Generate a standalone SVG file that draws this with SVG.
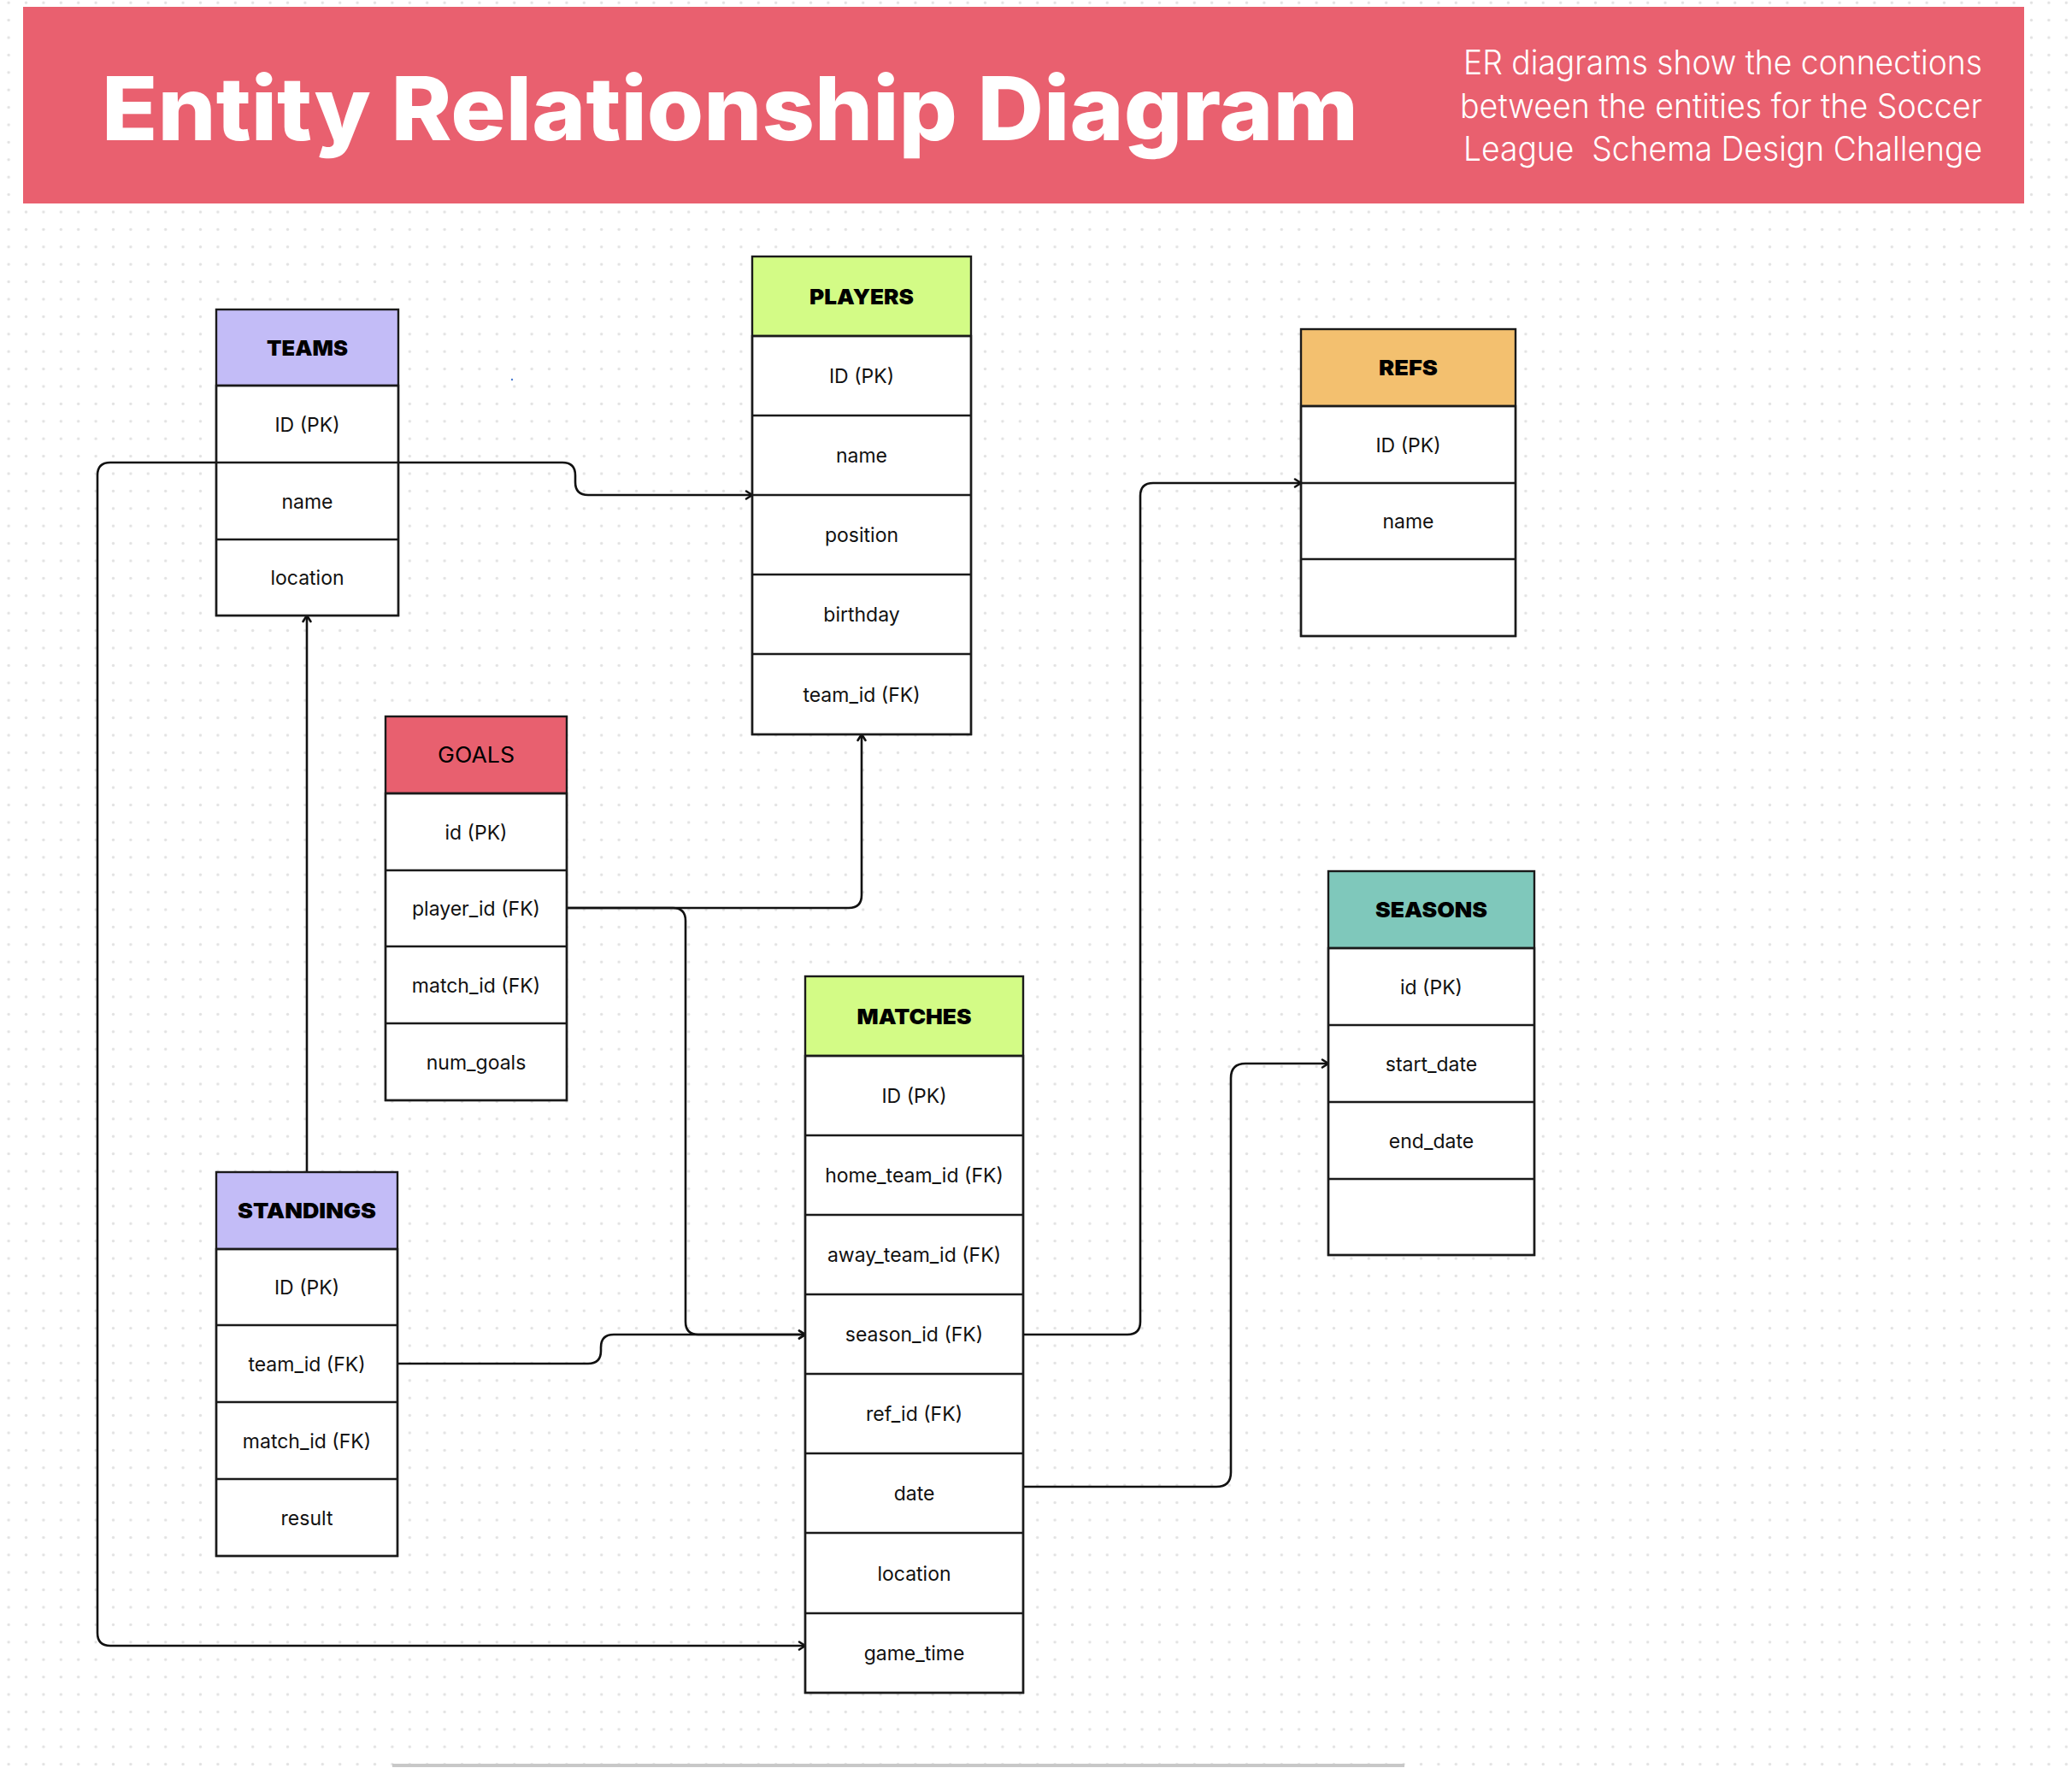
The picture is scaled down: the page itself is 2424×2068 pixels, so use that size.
<svg xmlns="http://www.w3.org/2000/svg" width="2424" height="2068" viewBox="0 0 2424 2068">
<defs>
<pattern id="dots" x="-0.1" y="-7" width="20.4" height="20.4" patternUnits="userSpaceOnUse">
<circle cx="10.2" cy="10.2" r="1.7" fill="#e2e2e2"/>
</pattern>
<marker id="arr" markerUnits="userSpaceOnUse" markerWidth="14" markerHeight="14" refX="9" refY="6" orient="auto" overflow="visible">
<path d="M2,1.5 L9,6 L2,10.5" fill="none" stroke="#111" stroke-width="2.6" stroke-linejoin="miter" stroke-linecap="round"/>
</marker>
<style>
.box{fill:#fff;stroke:#1a1a1a;stroke-width:2.4}
.sep{stroke:#1a1a1a;stroke-width:2.4}
.hdr{font-family:Inter,"Liberation Sans",sans-serif;font-weight:900;font-size:25px;fill:#000;text-anchor:middle}
.hdrn{font-family:Inter,"Liberation Sans",sans-serif;font-weight:400;font-size:25px;fill:#000;text-anchor:middle}
.row{font-family:Inter,"Liberation Sans",sans-serif;font-weight:400;font-size:23px;fill:#111;text-anchor:middle}
.con{fill:none;stroke:#111;stroke-width:2.6;stroke-linejoin:round}
.lav{fill:#c3bcf7}
.lime{fill:#d3fb86}
.org{fill:#f3c06f}
.red{fill:#e8606f}
.teal{fill:#7fc8bb}
</style>
</defs>
<rect x="0" y="0" width="2424" height="2068" fill="#ffffff"/>
<rect x="0" y="0" width="2424" height="2068" fill="url(#dots)"/>

<g id="banner">
<rect x="27" y="8" width="2341" height="230" fill="#e9606f"/>
<text x="119" y="164" font-family="Inter,'Liberation Sans',sans-serif" font-weight="800" font-size="103" fill="#ffffff" textLength="1470" lengthAdjust="spacingAndGlyphs">Entity Relationship Diagram</text>
<g font-family="Inter,'Liberation Sans',sans-serif" font-weight="300" font-size="39" fill="#ffffff" text-anchor="end">
<text x="2319" y="87" textLength="607" lengthAdjust="spacingAndGlyphs">ER diagrams show the connections</text>
<text x="2319" y="138" textLength="611" lengthAdjust="spacingAndGlyphs">between the entities for the Soccer</text>
<text x="2319" y="188" textLength="607" lengthAdjust="spacingAndGlyphs" xml:space="preserve" style="white-space:pre">League  Schema Design Challenge</text>
</g>
</g>

<g id="connectors">
<path class="con" d="M466,541 H658 Q673,541 673,556 V564 Q673,579 688,579 H880" marker-end="url(#arr)"/>
<path class="con" d="M253,541 H129 Q114,541 114,556 V1910 Q114,1925 129,1925 H942" marker-end="url(#arr)"/>
<path class="con" d="M359,1371 V720" marker-end="url(#arr)"/>
<path class="con" d="M663,1062 H993 Q1008,1062 1008,1047 V859" marker-end="url(#arr)"/>
<path class="con" d="M663,1062 H787 Q802,1062 802,1077 V1546 Q802,1561 817,1561 H942" marker-end="url(#arr)"/>
<path class="con" d="M465,1595 H688 Q703,1595 703,1580 V1576 Q703,1561 718,1561 H942" marker-end="url(#arr)"/>
<path class="con" d="M1197,1561 H1319 Q1334,1561 1334,1546 V580 Q1334,565 1349,565 H1522" marker-end="url(#arr)"/>
<path class="con" d="M1197,1739 H1423 Q1440,1739 1440,1722 V1261 Q1440,1244 1457,1244 H1554" marker-end="url(#arr)"/>
</g>

<g id="teams">
<rect class="lav" x="253" y="362" width="213" height="89"/>
<rect class="box" x="253" y="451" width="213" height="269"/>
<rect x="253" y="362" width="213" height="358" fill="none" stroke="#1a1a1a" stroke-width="2.4"/>
<line class="sep" x1="253" y1="451" x2="466" y2="451"/>
<line class="sep" x1="253" y1="541" x2="466" y2="541"/>
<line class="sep" x1="253" y1="631" x2="466" y2="631"/>
<text class="hdr" x="359.5" y="415.5" textLength="95" lengthAdjust="spacingAndGlyphs">TEAMS</text>
<text class="row" x="359.5" y="504.5">ID (PK)</text>
<text class="row" x="359.5" y="594.5">name</text>
<text class="row" x="359.5" y="684">location</text>
</g>

<g id="players">
<rect class="lime" x="880" y="300" width="256" height="93"/>
<rect class="box" x="880" y="393" width="256" height="466"/>
<rect x="880" y="300" width="256" height="559" fill="none" stroke="#1a1a1a" stroke-width="2.4"/>
<line class="sep" x1="880" y1="393" x2="1136" y2="393"/>
<line class="sep" x1="880" y1="486" x2="1136" y2="486"/>
<line class="sep" x1="880" y1="579" x2="1136" y2="579"/>
<line class="sep" x1="880" y1="672" x2="1136" y2="672"/>
<line class="sep" x1="880" y1="765" x2="1136" y2="765"/>
<text class="hdr" x="1008" y="355.5" textLength="122" lengthAdjust="spacingAndGlyphs">PLAYERS</text>
<text class="row" x="1008" y="448">ID (PK)</text>
<text class="row" x="1008" y="541">name</text>
<text class="row" x="1008" y="634">position</text>
<text class="row" x="1008" y="727">birthday</text>
<text class="row" x="1008" y="820.5">team_id (FK)</text>
</g>

<g id="refs">
<rect class="org" x="1522" y="385" width="251" height="90"/>
<rect class="box" x="1522" y="475" width="251" height="269"/>
<rect x="1522" y="385" width="251" height="359" fill="none" stroke="#1a1a1a" stroke-width="2.4"/>
<line class="sep" x1="1522" y1="475" x2="1773" y2="475"/>
<line class="sep" x1="1522" y1="565" x2="1773" y2="565"/>
<line class="sep" x1="1522" y1="654" x2="1773" y2="654"/>
<text class="hdr" x="1647.5" y="439" textLength="69" lengthAdjust="spacingAndGlyphs">REFS</text>
<text class="row" x="1647.5" y="528.5">ID (PK)</text>
<text class="row" x="1647.5" y="618">name</text>
</g>

<g id="goals">
<rect class="red" x="451" y="838" width="212" height="90"/>
<rect class="box" x="451" y="928" width="212" height="359"/>
<rect x="451" y="838" width="212" height="449" fill="none" stroke="#1a1a1a" stroke-width="2.4"/>
<line class="sep" x1="451" y1="928" x2="663" y2="928"/>
<line class="sep" x1="451" y1="1018" x2="663" y2="1018"/>
<line class="sep" x1="451" y1="1107" x2="663" y2="1107"/>
<line class="sep" x1="451" y1="1197" x2="663" y2="1197"/>
<text class="hdrn" x="557" y="892" textLength="90" lengthAdjust="spacingAndGlyphs">GOALS</text>
<text class="row" x="557" y="981.5">id (PK)</text>
<text class="row" x="557" y="1071">player_id (FK)</text>
<text class="row" x="557" y="1160.5">match_id (FK)</text>
<text class="row" x="557" y="1250.5">num_goals</text>
</g>

<g id="standings">
<rect class="lav" x="253" y="1371" width="212" height="90"/>
<rect class="box" x="253" y="1461" width="212" height="359"/>
<rect x="253" y="1371" width="212" height="449" fill="none" stroke="#1a1a1a" stroke-width="2.4"/>
<line class="sep" x1="253" y1="1461" x2="465" y2="1461"/>
<line class="sep" x1="253" y1="1550" x2="465" y2="1550"/>
<line class="sep" x1="253" y1="1640" x2="465" y2="1640"/>
<line class="sep" x1="253" y1="1730" x2="465" y2="1730"/>
<text class="hdr" x="359" y="1425" textLength="162" lengthAdjust="spacingAndGlyphs">STANDINGS</text>
<text class="row" x="359" y="1514">ID (PK)</text>
<text class="row" x="359" y="1603.5">team_id (FK)</text>
<text class="row" x="359" y="1693.5">match_id (FK)</text>
<text class="row" x="359" y="1783.5">result</text>
</g>

<g id="matches">
<rect class="lime" x="942" y="1142" width="255" height="93"/>
<rect class="box" x="942" y="1235" width="255" height="745"/>
<rect x="942" y="1142" width="255" height="838" fill="none" stroke="#1a1a1a" stroke-width="2.4"/>
<line class="sep" x1="942" y1="1235" x2="1197" y2="1235"/>
<line class="sep" x1="942" y1="1328" x2="1197" y2="1328"/>
<line class="sep" x1="942" y1="1421" x2="1197" y2="1421"/>
<line class="sep" x1="942" y1="1514" x2="1197" y2="1514"/>
<line class="sep" x1="942" y1="1607" x2="1197" y2="1607"/>
<line class="sep" x1="942" y1="1700" x2="1197" y2="1700"/>
<line class="sep" x1="942" y1="1793" x2="1197" y2="1793"/>
<line class="sep" x1="942" y1="1887" x2="1197" y2="1887"/>
<text class="hdr" x="1069.5" y="1197.5" textLength="134" lengthAdjust="spacingAndGlyphs">MATCHES</text>
<text class="row" x="1069.5" y="1290">ID (PK)</text>
<text class="row" x="1069.5" y="1383">home_team_id (FK)</text>
<text class="row" x="1069.5" y="1476">away_team_id (FK)</text>
<text class="row" x="1069.5" y="1569">season_id (FK)</text>
<text class="row" x="1069.5" y="1662">ref_id (FK)</text>
<text class="row" x="1069.5" y="1755">date</text>
<text class="row" x="1069.5" y="1848.5">location</text>
<text class="row" x="1069.5" y="1942">game_time</text>
</g>

<g id="seasons">
<rect class="teal" x="1554" y="1019" width="241" height="90"/>
<rect class="box" x="1554" y="1109" width="241" height="359"/>
<rect x="1554" y="1019" width="241" height="449" fill="none" stroke="#1a1a1a" stroke-width="2.4"/>
<line class="sep" x1="1554" y1="1109" x2="1795" y2="1109"/>
<line class="sep" x1="1554" y1="1199" x2="1795" y2="1199"/>
<line class="sep" x1="1554" y1="1289" x2="1795" y2="1289"/>
<line class="sep" x1="1554" y1="1379" x2="1795" y2="1379"/>
<text class="hdr" x="1674.5" y="1073" textLength="131" lengthAdjust="spacingAndGlyphs">SEASONS</text>
<text class="row" x="1674.5" y="1162.5">id (PK)</text>
<text class="row" x="1674.5" y="1252.5">start_date</text>
<text class="row" x="1674.5" y="1342.5">end_date</text>
</g>

<circle cx="599" cy="444" r="1.2" fill="#4a7bd0"/>
<rect x="459" y="2063" width="1184" height="4" fill="#c8c8c8"/>
</svg>
